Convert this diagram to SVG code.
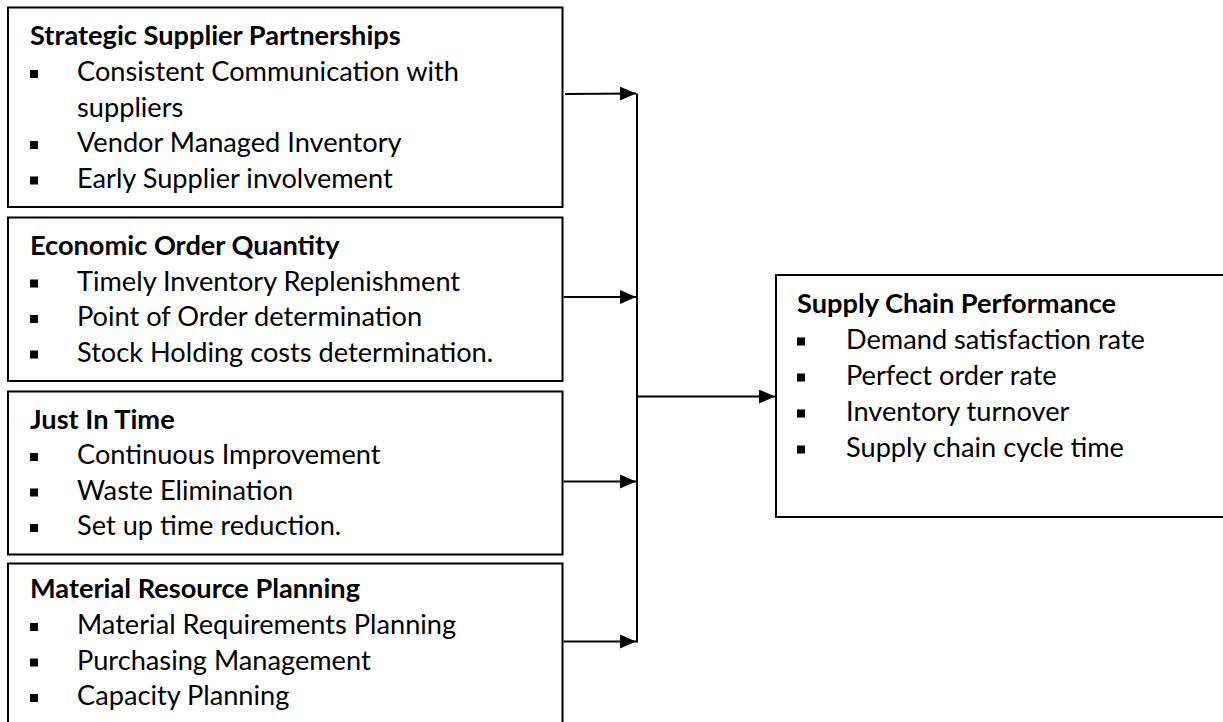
<svg xmlns="http://www.w3.org/2000/svg" width="1223" height="722" viewBox="0 0 1223 722">
  <style>
    .box { fill: #ffffff; stroke: #000000; stroke-width: 2; }
    .title { font-family: Lato, "Liberation Sans", sans-serif; font-weight: bold; font-size: 27.2px; fill: #000000; }
    .item { font-family: Lato, "Liberation Sans", sans-serif; font-size: 27.2px; fill: #000000; }
    .bullet { fill: #000000; }
    .wire { fill: none; stroke: #000000; stroke-width: 2; }
  </style>
  <defs>
    <marker id="head" viewBox="0 0 16 14" refX="16" refY="7" markerWidth="16" markerHeight="14" markerUnits="userSpaceOnUse" orient="auto">
      <path d="M0,0 L16,7 L0,14 Z" fill="#000000"/>
    </marker>
  </defs>
  <rect width="1223" height="722" fill="#ffffff"/>

  <g id="strategic-supplier-partnerships">
    <rect class="box" x="8" y="7.5" width="554.5" height="199.5"/>
    <text class="title" x="30" y="45">Strategic Supplier Partnerships</text>
    <rect class="bullet" x="30" y="70" width="8" height="8"/>
    <text class="item" x="77" y="81">Consistent Communication with</text>
    <text class="item" x="77" y="116.5">suppliers</text>
    <rect class="bullet" x="30" y="141" width="8" height="8"/>
    <text class="item" x="77" y="152">Vendor Managed Inventory</text>
    <rect class="bullet" x="30" y="176.5" width="8" height="8"/>
    <text class="item" x="77" y="187.5">Early Supplier involvement</text>
  </g>

  <g id="economic-order-quantity">
    <rect class="box" x="8" y="217.5" width="554.5" height="163.5"/>
    <text class="title" x="30" y="255">Economic Order Quantity</text>
    <rect class="bullet" x="30" y="279.5" width="8" height="8"/>
    <text class="item" x="77" y="290.5">Timely Inventory Replenishment</text>
    <rect class="bullet" x="30" y="315" width="8" height="8"/>
    <text class="item" x="77" y="326">Point of Order determination</text>
    <rect class="bullet" x="30" y="350.5" width="8" height="8"/>
    <text class="item" x="77" y="361.5">Stock Holding costs determination.</text>
  </g>

  <g id="just-in-time">
    <rect class="box" x="8" y="391.5" width="554.5" height="163"/>
    <text class="title" x="30" y="429">Just In Time</text>
    <rect class="bullet" x="30" y="453" width="8" height="8"/>
    <text class="item" x="77" y="464">Continuous Improvement</text>
    <rect class="bullet" x="30" y="488.5" width="8" height="8"/>
    <text class="item" x="77" y="499.5">Waste Elimination</text>
    <rect class="bullet" x="30" y="524" width="8" height="8"/>
    <text class="item" x="77" y="535">Set up time reduction.</text>
  </g>

  <g id="material-resource-planning">
    <rect class="box" x="8" y="563.5" width="554.5" height="170"/>
    <text class="title" x="30" y="598">Material Resource Planning</text>
    <rect class="bullet" x="30" y="623" width="8" height="8"/>
    <text class="item" x="77" y="634">Material Requirements Planning</text>
    <rect class="bullet" x="30" y="658.5" width="8" height="8"/>
    <text class="item" x="77" y="669.5">Purchasing Management</text>
    <rect class="bullet" x="30" y="694" width="8" height="8"/>
    <text class="item" x="77" y="705">Capacity Planning</text>
  </g>

  <g id="supply-chain-performance">
    <rect class="box" x="776" y="275" width="460" height="242"/>
    <text class="title" x="797" y="313">Supply Chain Performance</text>
    <rect class="bullet" x="797" y="337.5" width="8" height="8"/>
    <text class="item" x="846" y="348.5">Demand satisfaction rate</text>
    <rect class="bullet" x="797" y="373.5" width="8" height="8"/>
    <text class="item" x="846" y="384.5">Perfect order rate</text>
    <rect class="bullet" x="797" y="409.5" width="8" height="8"/>
    <text class="item" x="846" y="420.5">Inventory turnover</text>
    <rect class="bullet" x="797" y="445.5" width="8" height="8"/>
    <text class="item" x="846" y="456.5">Supply chain cycle time</text>
  </g>

  <g id="connectors">
    <line class="wire" x1="565" y1="94" x2="636" y2="93.5" marker-end="url(#head)"/>
    <line class="wire" x1="563.5" y1="297" x2="636" y2="297" marker-end="url(#head)"/>
    <line class="wire" x1="563.5" y1="481.5" x2="636" y2="481.5" marker-end="url(#head)"/>
    <line class="wire" x1="563.5" y1="641.5" x2="636" y2="641.5" marker-end="url(#head)"/>
    <line class="wire" x1="637" y1="93.5" x2="637" y2="642.5"/>
    <line class="wire" x1="637" y1="396.5" x2="775" y2="396.5" marker-end="url(#head)"/>
  </g>
</svg>
